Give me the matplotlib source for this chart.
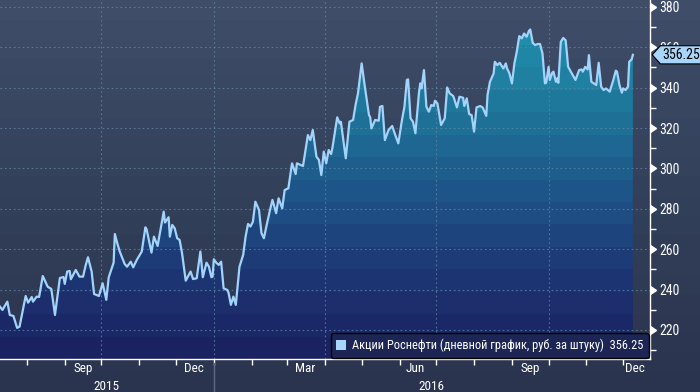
import numpy as np
import pandas as pd
import matplotlib
matplotlib.use('Agg')
import matplotlib.pyplot as plt
import matplotlib.dates as mdates
from matplotlib.colors import LinearSegmentedColormap
from matplotlib.patches import Patch
from matplotlib.path import Path

plt.rcParams['font.family'] = ['Roboto Condensed', 'Liberation Sans Narrow', 'DejaVu Sans']
plt.rcParams['font.stretch'] = 'condensed'

# ---- data (days counted from start_date, price in rub)
start_date = np.datetime64('2015-07-10')
days = [0, 2, 6, 8, 11, 14, 16, 21, 23, 26, 27, 30, 32, 35, 39, 42, 45, 49, 52, 53,
        55, 57, 58, 62, 65, 68, 70, 72, 75, 77, 79, 81, 84, 87, 89, 93, 94, 96, 98, 102,
        104, 107, 109, 112, 116, 119, 120, 124, 126, 129, 134, 135, 138, 139, 141, 143, 145, 147, 149, 152,
        156, 158, 161, 164, 166, 169, 171, 173, 174, 175, 177, 179, 181, 183, 186, 187, 189, 191, 193, 196,
        199, 201, 203, 205, 207, 209, 212, 214, 216, 218, 221, 223, 226, 228, 231, 233, 236, 239, 242, 243,
        248, 252, 254, 256, 259, 261, 263, 265, 267, 269, 271, 272, 276, 278, 279, 281, 283, 286, 289, 291,
        293, 296, 299, 302, 303, 304, 307, 310, 311, 313, 315, 318, 321, 324, 326, 329, 331, 333, 334, 336,
        338, 340, 343, 344, 345, 347, 349, 351, 353, 355, 356, 358, 361, 364, 366, 368, 371, 374, 376, 379,
        380, 382, 384, 386, 388, 390, 393, 395, 398, 399, 401, 404, 405, 407, 409, 412, 414, 415, 417, 419,
        421, 423, 425, 427, 429, 431, 433, 434, 436, 438, 440, 442, 444, 446, 447, 449, 450, 452, 453, 455,
        456, 457, 459, 461, 463, 465, 468, 471, 474, 476, 477, 479, 481, 482, 484, 486, 488, 490, 492, 494,
        496, 499, 502, 504, 505, 507, 509, 510, 512, 514, 515, 517, 518]
price = [231.5, 229.9, 234.0, 227.4, 226.9, 221.0, 221.6, 236.8, 233.5, 236.3, 234.0, 236.5, 236.3, 246.7, 241.4, 240.3, 227.4, 245.7, 246.2, 242.8,
         248.9, 249.2, 245.1, 249.7, 246.4, 246.4, 251.7, 256.0, 248.9, 237.8, 237.3, 236.8, 243.1, 234.9, 246.1, 253.3, 267.5, 262.9, 258.8, 252.7,
         251.3, 253.8, 251.0, 254.7, 258.8, 270.8, 269.8, 258.3, 266.2, 261.6, 278.6, 273.2, 275.8, 266.2, 272.0, 270.3, 265.4, 264.6, 258.0, 244.4,
         248.9, 245.2, 245.6, 258.8, 246.1, 253.3, 251.3, 246.1, 246.4, 255.0, 253.3, 252.2, 253.8, 240.6, 239.8, 238.5, 232.4, 236.5, 232.4, 251.3,
         257.1, 266.2, 272.5, 271.2, 273.6, 283.5, 279.4, 267.9, 265.4, 271.2, 279.4, 284.4, 277.8, 285.2, 280.2, 289.3, 290.1, 302.5, 297.2, 302.5,
         301.2, 316.5, 314.0, 319.0, 305.8, 304.2, 296.7, 308.3, 302.5, 309.1, 307.1, 309.9, 325.3, 322.3, 323.1, 314.0, 305.0, 323.1, 324.0, 331.4,
         337.2, 352.0, 338.8, 326.4, 325.3, 319.8, 324.0, 323.6, 330.5, 330.9, 314.0, 319.0, 321.0, 315.7, 312.4, 324.0, 330.5, 343.8, 344.1, 324.8,
         323.1, 317.4, 338.0, 342.1, 339.6, 348.7, 330.5, 328.1, 331.4, 330.9, 333.5, 332.2, 321.5, 324.8, 340.1, 337.2, 335.8, 330.2, 335.5, 335.0,
         330.9, 334.7, 326.9, 326.4, 318.2, 330.2, 330.9, 330.2, 326.0, 336.3, 342.9, 347.0, 352.8, 351.2, 352.3, 349.5, 352.0, 349.5, 347.0, 342.1,
         352.0, 357.9, 365.5, 364.4, 366.8, 365.2, 368.2, 368.8, 362.2, 361.1, 361.6, 361.6, 356.9, 342.1, 342.4, 350.3, 343.8, 347.4, 347.9, 342.9,
         344.6, 342.4, 362.7, 364.6, 363.4, 350.3, 347.0, 343.8, 348.7, 349.0, 347.9, 350.3, 349.0, 356.1, 342.9, 342.1, 341.3, 352.3, 340.5, 338.8,
         339.6, 338.0, 343.8, 348.4, 347.9, 341.3, 337.5, 339.6, 338.8, 340.5, 352.8, 354.0, 356.25]

y_major = [220, 240, 260, 280, 300, 320, 340, 360, 380]
y_minor = [210, 230, 250, 270, 290, 310, 330, 350, 370]
month_labels = ['Sep', 'Dec', 'Mar', 'Jun', 'Sep', 'Dec']
month_label_dates = ['2015-09-16', '2015-12-16', '2016-03-16', '2016-06-14', '2016-09-16', '2016-12-11']
quarter_lines = ['2015-10-01', '2016-01-01', '2016-04-01', '2016-07-01', '2016-10-01']
years = ['2015', '2016']
legend_label = 'Акции Роснефти (дневной график, руб. за штуку)  356.25'

dates = start_date + np.array(days).astype('timedelta64[D]')
x = mdates.date2num(dates)
xmin = mdates.date2num(start_date)
xmax = mdates.date2num(start_date + np.timedelta64(532, 'D'))
ymin, ymax = 205.6, 383.4


def tag_box(x0, y0, width, height, mutation_size):
    # rectangle with a pointed left side, like the last-price flag
    pad = 0.15 * mutation_size
    x0, y0 = x0 - pad, y0 - pad
    x1, y1 = x0 + width + 2 * pad, y0 + height + 2 * pad
    tip = x0 - (y1 - y0) * 0.45
    return Path([(tip, (y0 + y1) / 2), (x0, y0), (x1, y0), (x1, y1), (x0, y1), (tip, (y0 + y1) / 2)], closed=True)


fig = plt.figure(figsize=(7, 3.92), dpi=100)

# background gradient over whole figure
bg = fig.add_axes([0, 0, 1, 1], zorder=-5)
bg_cmap = LinearSegmentedColormap.from_list('bg', ['#2b344e', '#33405a', '#404d68'])
bg.imshow(np.linspace(0, 1, 20).reshape(-1, 1), cmap=bg_cmap, aspect='auto',
          origin='lower', extent=[0, 1, 0, 1], interpolation='nearest')
bg.set_axis_off()

ax = fig.add_axes([0, 33 / 392, 650 / 700, 359 / 392])
ax.set_facecolor('none')

# banded gradient under the price line
fill_cmap = LinearSegmentedColormap.from_list('fill', ['#1b2262', '#1d3a76', '#1d5a8b', '#1f7b9e', '#2294ae'])
poly = ax.fill_between(x, price, ymin, color='none', lw=0)
img = ax.imshow(np.linspace(0, 1, 16).reshape(-1, 1), cmap=fill_cmap, aspect='auto',
                origin='lower', extent=[xmin, xmax, ymin, ymax], interpolation='nearest', zorder=1)
img.set_clip_path(poly.get_paths()[0], transform=ax.transData)

# dotted grid
ax.hlines(y_major, xmin, xmax, colors='#5e86a3', linestyles=(0, (1.5, 2.5)), lw=0.8, zorder=2, alpha=0.8)
ax.vlines(mdates.date2num(pd.to_datetime(quarter_lines)), ymin, ymax, colors='#5e86a3',
          linestyles=(0, (1.5, 2.5)), lw=0.8, zorder=2, alpha=0.8)

ax.plot(x, price, color='#a2d4fb', lw=1.6, zorder=3)

ax.set_xlim(xmin, xmax)
ax.set_ylim(ymin, ymax)

for s in ['left', 'top']:
    ax.spines[s].set_visible(False)
for s in ['right', 'bottom']:
    ax.spines[s].set_color('white')
    ax.spines[s].set_linewidth(1.0)

# y axis on the right with arrow marks
ax.yaxis.tick_right()
ax.set_yticks(y_major)
ax.set_yticks(y_minor, minor=True)
ax.tick_params(axis='y', which='major', length=0, pad=7, labelcolor='white', labelsize=10)
ax.tick_params(axis='y', which='minor', length=4, color='white', width=1)
tr = ax.get_yaxis_transform()
ax.plot([1.0] * len(y_major), y_major, transform=tr, marker=9, ms=6, color='white', ls='none', clip_on=False, zorder=5)

# x axis: month boundaries as ticks, labels mid month
ax.set_xticks(mdates.date2num(pd.date_range('2015-08-01', '2016-12-01', freq='MS')), minor=True)
ax.set_xticks(mdates.date2num(pd.to_datetime(month_label_dates)))
ax.set_xticklabels(month_labels)
ax.tick_params(axis='x', which='major', length=0, pad=2, labelcolor='white', labelsize=9.5)
ax.tick_params(axis='x', which='minor', length=4, color='white', width=1)

# year labels and separator
jan1 = mdates.date2num(np.datetime64('2016-01-01'))
xtr = ax.get_xaxis_transform()
ax.text((xmin + jan1) / 2, -0.058, years[0], transform=xtr, ha='center', va='top', color='white', fontsize=9.5)
ax.text((jan1 + xmax) / 2, -0.058, years[1], transform=xtr, ha='center', va='top', color='white', fontsize=9.5)
ax.plot([jan1, jan1], [-0.01, -0.1], transform=xtr, color='#5f6a85', lw=1, clip_on=False)

# last value tag
ax.annotate('356.25', xy=(1.0, price[-1]), xycoords=tr, xytext=(9, 0), textcoords='offset points',
            ha='left', va='center', fontsize=10, color='black',
            bbox=dict(boxstyle=tag_box, fc='#a8d6fb', ec='black', lw=0.8), annotation_clip=False, zorder=6)

leg = ax.legend(handles=[Patch(facecolor='#a8d6fb', edgecolor='none')], labels=[legend_label],
                loc='lower right', bbox_to_anchor=(1.0, 0.0), borderaxespad=0.1, fontsize=8.9,
                handlelength=0.8, handleheight=0.8, handletextpad=0.45, borderpad=0.45,
                facecolor='#1c2553', edgecolor='black', framealpha=1, fancybox=True)
leg.get_frame().set_linewidth(1.0)
for t in leg.get_texts():
    t.set_color('white')
leg.set_zorder(10)

fig.savefig('out.png', dpi=100)
